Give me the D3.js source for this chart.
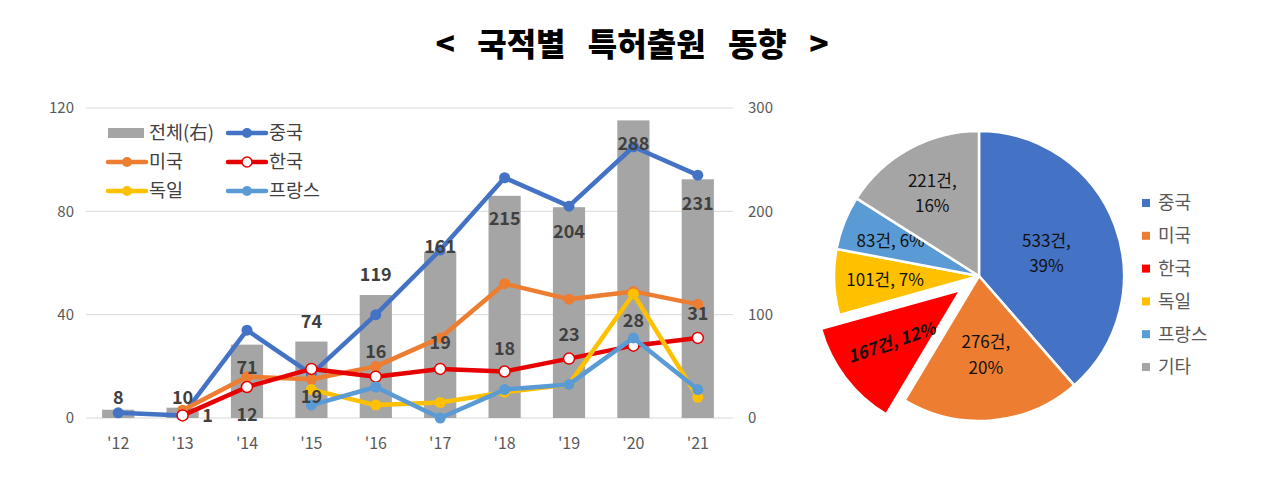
<!DOCTYPE html>
<html><head><meta charset="utf-8">
<script src="https://cdn.jsdelivr.net/npm/d3@7"></script>
<style>
html,body{margin:0;padding:0;background:#fff;}
svg{display:block;font-family:"Noto Sans CJK KR","Noto Sans",sans-serif;}
</style></head>
<body><svg id="c" width="1263" height="498"></svg>
<script>
// ---- data ----
const years = ["'12","'13","'14","'15","'16","'17","'18","'19","'20","'21"];
const total   = [8, 10, 71, 74, 119, 161, 215, 204, 288, 231];
const china   = [2, 1, 34, 17, 40, 65, 93, 82, 105, 94];
const usa     = [null, 3, 16, 15, 20, 31, 52, 46, 49, 44];
const korea   = [null, 1, 12, 19, 16, 19, 18, 23, 28, 31];
const germany = [null, null, null, 11, 5, 6, 10, 13, 48, 8];
const france  = [null, null, null, 5, 12, 0, 11, 13, 31, 11];
const leftTicks = [0, 40, 80, 120];
const rightTicks = [0, 100, 200, 300];
const pieNames = ["중국","미국","한국","독일","프랑스","기타"];
const pieValues = [533, 276, 167, 101, 83, 221];
const piePct = ["39%","20%","12%","7%","6%","16%"];

// ---- styles / layout ----
const barLabelDy = [-12, -10, 23, -20, -20, -5, 23, 24, 23, 24];
const korLabelDx = [0, 25, 0, 0, 0, 0, 0, 0, 0, 0];
const korLabelDy = [0, 0, 28, 28, -25, -26, -23, -24, -25, -24];
const pieColors = ["#4472C4","#ED7D31","#FF0000","#FFC000","#5B9BD5","#A5A5A5"];
const pieLabelR = [72, 77, 87, 94, 95, 97];

const svg = d3.select("#c");

// title
svg.append("text").attr("x", 632).attr("y", 56).attr("text-anchor","middle")
  .attr("font-size", 32).attr("font-weight", 900).attr("fill","#000")
  .attr("word-spacing", 15)
  .text("< 국적별 특허출원 동향 >");

// scales
const x = d3.scaleBand().domain(years).range([86, 730]).paddingInner(0.5).paddingOuter(0.25);
const yL = d3.scaleLinear().domain([0,120]).range([418,108]);
const yR = d3.scaleLinear().domain([0,300]).range([418,108]);
const cx = d => x(d) + x.bandwidth()/2;

// gridlines
svg.append("g").selectAll("line").data(leftTicks).join("line")
  .attr("x1", 86).attr("x2", 733).attr("y1", d=>yL(d)).attr("y2", d=>yL(d))
  .attr("stroke","#d9d9d9").attr("stroke-width",1);

// axes
const axL = svg.append("g").attr("transform","translate(80,0)")
  .call(d3.axisLeft(yL).tickValues(leftTicks).tickSize(0).tickPadding(6));
const axR = svg.append("g").attr("transform","translate(742,0)")
  .call(d3.axisRight(yR).tickValues(rightTicks).tickSize(0).tickPadding(6));
const axB = svg.append("g").attr("transform","translate(0,430)")
  .call(d3.axisBottom(x).tickSize(0).tickPadding(8));
[axL, axR, axB].forEach(a => {
  a.select(".domain").remove();
  a.selectAll("text").attr("font-size", 15).attr("fill","#595959")
    .attr("font-family","'Noto Sans CJK KR','Noto Sans',sans-serif");
});
axB.selectAll("text").attr("font-size", 16);

// bars
svg.append("g").selectAll("rect").data(total).join("rect")
  .attr("x", (d,i)=>x(years[i])).attr("width", x.bandwidth())
  .attr("y", d=>yR(d)).attr("height", d=>yR(0)-yR(d)).attr("fill","#A5A5A5");

// lines
const series = [
  {name:"중국", vals:china, color:"#4472C4", fill:"#4472C4"},
  {name:"미국", vals:usa, color:"#ED7D31", fill:"#ED7D31"},
  {name:"한국", vals:korea, color:"#E60000", fill:"#fff"},
  {name:"독일", vals:germany, color:"#FFC000", fill:"#FFC000"},
  {name:"프랑스", vals:france, color:"#5B9BD5", fill:"#5B9BD5"}
];
const line = d3.line().defined(d=>d.v!==null).x(d=>cx(d.k)).y(d=>yL(d.v));
series.forEach(s => {
  const pts = years.map((k,i)=>({k, v:s.vals[i]}));
  svg.append("path").datum(pts).attr("d", line).attr("fill","none")
    .attr("stroke", s.color).attr("stroke-width", 4.5).attr("stroke-linejoin","round");
  svg.append("g").selectAll("circle").data(pts.filter(p=>p.v!==null)).join("circle")
    .attr("cx", p=>cx(p.k)).attr("cy", p=>yL(p.v)).attr("r", 5.5)
    .attr("fill", s.fill).attr("stroke", s.color).attr("stroke-width", s.fill==="#fff"?1.5:0);
});

// bar labels
svg.append("g").selectAll("text").data(total).join("text")
  .attr("x", (d,i)=>cx(years[i])).attr("y", (d,i)=>yR(d)+barLabelDy[i])
  .attr("dy","0.35em").attr("text-anchor","middle")
  .attr("font-size", 18).attr("font-weight", 700).attr("fill","#404040").text(d=>d);

// korea labels
svg.append("g").selectAll("text").data(korea.map((v,i)=>({v,i})).filter(d=>d.v!==null)).join("text")
  .attr("x", d=>cx(years[d.i])+korLabelDx[d.i]).attr("y", d=>yL(d.v)+korLabelDy[d.i])
  .attr("dy","0.35em").attr("text-anchor","middle")
  .attr("font-size", 18).attr("font-weight", 700).attr("fill","#404040").text(d=>d.v);

// left legend
const lg = svg.append("g").attr("font-size", 18.5).attr("fill","#404040");
const legendItems = [
  {t:"전체(右)", type:"bar", color:"#A5A5A5", col:0, row:0},
  {t:"중국", type:"line", color:"#4472C4", fill:"#4472C4", col:1, row:0},
  {t:"미국", type:"line", color:"#ED7D31", fill:"#ED7D31", col:0, row:1},
  {t:"한국", type:"line", color:"#E60000", fill:"#fff", col:1, row:1},
  {t:"독일", type:"line", color:"#FFC000", fill:"#FFC000", col:0, row:2},
  {t:"프랑스", type:"line", color:"#5B9BD5", fill:"#5B9BD5", col:1, row:2}
];
legendItems.forEach(it => {
  const x0 = it.col===0 ? 108 : 228, yy = 133 + it.row*29;
  if (it.type==="bar") {
    lg.append("rect").attr("x", x0).attr("y", yy-5).attr("width", 36).attr("height", 10).attr("fill", it.color);
  } else {
    lg.append("line").attr("x1", x0).attr("x2", x0+38).attr("y1", yy).attr("y2", yy)
      .attr("stroke", it.color).attr("stroke-width", 4.5).attr("stroke-linecap","round");
    lg.append("circle").attr("cx", x0+19).attr("cy", yy).attr("r", 5)
      .attr("fill", it.fill).attr("stroke", it.color).attr("stroke-width", it.fill==="#fff"?1.5:0);
  }
  lg.append("text").attr("x", x0+41).attr("y", yy).attr("dy","0.35em").attr("fill","#404040").text(it.t);
});

// pie
const pcx = 979, pcy = 276, R = 145;
const pie = d3.pie().sort(null).value(d=>d)(pieValues);
const arc = d3.arc().innerRadius(0).outerRadius(R);
const pg = svg.append("g").attr("transform", `translate(${pcx},${pcy})`);
pie.forEach((p,i) => {
  const mid = (p.startAngle+p.endAngle)/2;
  const off = i===2 ? 23 : 0;
  const ox = Math.sin(mid)*off, oy = -Math.cos(mid)*off;
  const g = pg.append("g").attr("transform", `translate(${ox},${oy})`);
  g.append("path").attr("d", arc(p)).attr("fill", pieColors[i]).attr("stroke","#fff").attr("stroke-width", 2.5);
  const lr = pieLabelR[i];
  const lx = Math.sin(mid)*lr, ly = -Math.cos(mid)*lr;
  const t = g.append("text").attr("text-anchor","middle").attr("font-size", 17)
    .attr("fill","#111").attr("transform", `translate(${lx},${ly})` + (i===2?" rotate(-19)":""));
  if (i===0 || i===1 || i===5) {
    t.append("tspan").attr("x",0).attr("dy","-0.25em").text(pieValues[i]+"건,");
    t.append("tspan").attr("x",0).attr("dy","1.5em").text(piePct[i]);
  } else {
    t.attr("dy","0.35em").text(pieValues[i]+"건, "+piePct[i]);
    if (i===2) t.attr("font-weight",700).attr("font-style","italic");
  }
});

// pie legend
const pl = svg.append("g");
pieNames.forEach((n,i) => {
  const yy = 203 + i*32.8;
  pl.append("rect").attr("x", 1142).attr("y", yy-4).attr("width", 8).attr("height", 8).attr("fill", pieColors[i]);
  pl.append("text").attr("x", 1158).attr("y", yy).attr("dy","0.35em").attr("font-size", 18)
    .attr("fill","#595959").text(n);
});
</script></body></html>
